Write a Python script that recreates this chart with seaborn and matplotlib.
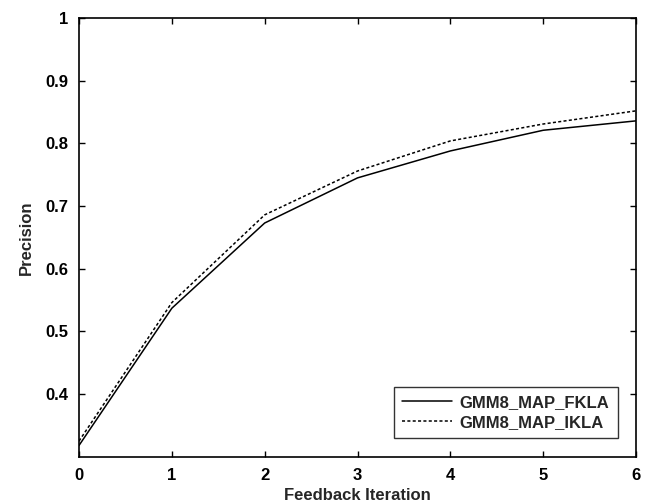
import pandas as pd
import matplotlib
matplotlib.use("Agg")
import matplotlib.pyplot as plt
import seaborn as sns

# values
iterations = [0, 1, 2, 3, 4, 5, 6]
fkla = [0.318, 0.537, 0.673, 0.745, 0.788, 0.821, 0.836]
ikla = [0.325, 0.546, 0.686, 0.756, 0.804, 0.831, 0.852]

data = pd.DataFrame({
    "Feedback Iteration": iterations * 2,
    "Precision": fkla + ikla,
    "Method": ["GMM8_MAP_FKLA"] * len(fkla) + ["GMM8_MAP_IKLA"] * len(ikla),
})

sns.set_style("ticks")
plt.rcParams["font.family"] = ["Liberation Sans", "DejaVu Sans"]
plt.rcParams["font.weight"] = "bold"

fig, ax = plt.subplots(figsize=(6.53, 5.03), dpi=100)
fig.subplots_adjust(left=0.121, right=0.974, top=0.964, bottom=0.092)

sns.lineplot(data=data, x="Feedback Iteration", y="Precision", hue="Method",
             style="Method", palette=["black", "black"],
             dashes={"GMM8_MAP_FKLA": "", "GMM8_MAP_IKLA": (2, 1.5)},
             linewidth=1.1, ax=ax)

ax.set_xlim(0, 6)
ax.set_ylim(0.3, 1.0)
ax.set_xticks(range(0, 7))
ax.set_yticks([0.4, 0.5, 0.6, 0.7, 0.8, 0.9, 1.0])
ax.set_yticklabels(["0.4", "0.5", "0.6", "0.7", "0.8", "0.9", "1"])
ax.tick_params(direction="in", length=4, width=1, top=True, right=True,
               labelsize=12, pad=8, colors="black")
for lbl in ax.get_xticklabels() + ax.get_yticklabels():
    lbl.set_fontweight("bold")
for sp in ax.spines.values():
    sp.set_linewidth(1.2)
    sp.set_color("black")

ax.set_xlabel("Feedback Iteration", fontsize=12, fontweight="bold", labelpad=4)
ax.set_ylabel("Precision", fontsize=12, fontweight="bold", labelpad=8)

leg = ax.legend(loc="lower right", fontsize=12, frameon=True, fancybox=False,
                edgecolor="black", borderaxespad=1.1, handlelength=3.0,
                handletextpad=0.45, borderpad=0.5, labelspacing=0.3)
leg.get_frame().set_linewidth(1.0)
for t in leg.get_texts():
    t.set_fontweight("bold")

fig.savefig("out.png", dpi=100)
